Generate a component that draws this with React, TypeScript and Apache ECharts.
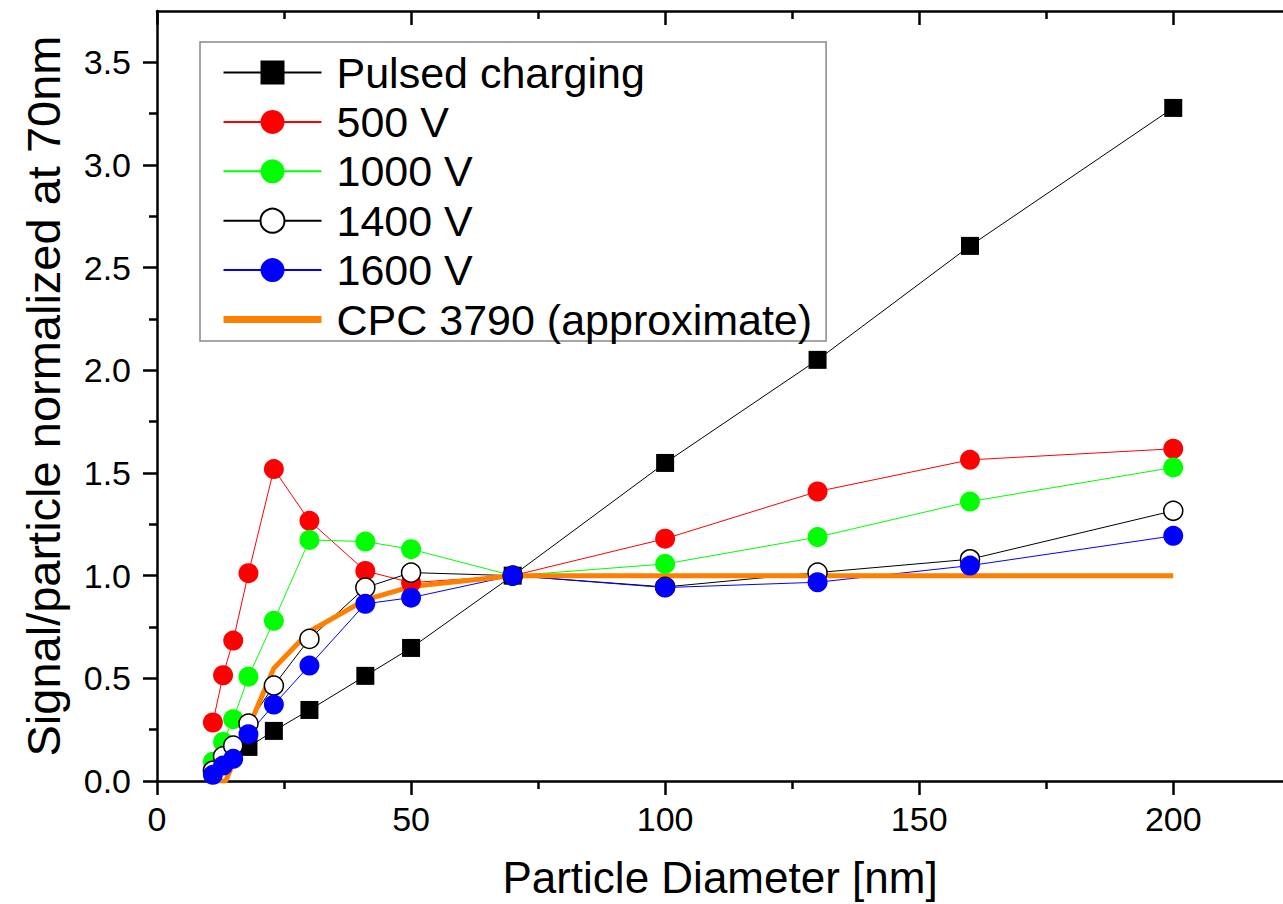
import React, { useEffect, useRef } from "react";
import * as echarts from "echarts";

const DIAMETERS = [11, 13, 15, 18, 23, 30, 41, 50, 70, 100, 130, 160, 200];
const PULSED_X = [18, 23, 30, 41, 50, 70, 100, 130, 160, 200];
const PULSED_Y = [0.166, 0.244, 0.346, 0.512, 0.648, 1.0, 1.549, 2.051, 2.606, 3.278];
const V500 = [0.285, 0.515, 0.684, 1.012, 1.519, 1.267, 1.023, 0.966, 1.0, 1.18, 1.41, 1.564, 1.618];
const V1000 = [0.094, 0.19, 0.301, 0.508, 0.78, 1.174, 1.166, 1.129, 1.0, 1.057, 1.188, 1.361, 1.527];
const V1400 = [0.05, 0.12, 0.172, 0.28, 0.465, 0.692, 0.942, 1.015, 1.0, 0.945, 1.015, 1.08, 1.316];
const V1600 = [0.03, 0.075, 0.108, 0.228, 0.372, 0.562, 0.863, 0.893, 1.0, 0.942, 0.968, 1.049, 1.194];
const CPC_X = [11, 13.5, 23, 30, 41, 50, 70, 100, 130, 160, 200];
const CPC_Y = [0, 0, 0.549, 0.728, 0.882, 0.947, 1.0, 1.0, 1.0, 1.0, 1.0];

const X_MAJOR = [0, 50, 100, 150, 200];
const X_MINOR = [25, 75, 125, 175];
const Y_MAJOR = [0, 0.5, 1.0, 1.5, 2.0, 2.5, 3.0, 3.5];
const Y_MINOR = [0.25, 0.75, 1.25, 1.75, 2.25, 2.75, 3.25];

const FONT = "'Liberation Sans', Arial, sans-serif";
const XMAX = 221.6;
const YMAX = 3.75;

const zip = (xs: number[], ys: number[]) => xs.map((x, i) => [x, ys[i]]);

export default function App() {
  const ref = useRef<HTMLDivElement>(null);
  useEffect(() => {
    if (!ref.current) return;
    const chart = echarts.init(ref.current, null, { renderer: "svg" });
    const axisLine = { show: true, lineStyle: { color: "#000", width: 2.5 } };
    const xBase = { type: "value", min: 0, max: XMAX, splitLine: { show: false } };
    const yBase = { type: "value", min: 0, max: YMAX, splitLine: { show: false } };
    chart.setOption({
      animation: false,
      backgroundColor: "#fff",
      textStyle: { fontFamily: FONT },
      grid: { left: 157, right: 0, top: 11, bottom: 123 },
      legend: {
        orient: "vertical",
        left: 200,
        top: 42,
        padding: [9, 14, 0, 20],
        borderColor: "#888",
        borderWidth: 1.5,
        itemWidth: 98,
        itemHeight: 30,
        itemGap: 6.4,
        textStyle: { fontSize: 43, lineHeight: 43, color: "#000", fontFamily: FONT, padding: [0, 0, 0, 10] },
        data: [
          "Pulsed charging",
          "500 V",
          "1000 V",
          "1400 V",
          "1600 V",
          { name: "CPC 3790 (approximate)", itemStyle: { opacity: 0 }, lineStyle: { width: 7 } },
        ],
      },
      xAxis: [
        {
          ...xBase,
          position: "bottom",
          axisLine,
          axisTick: { show: true, customValues: X_MAJOR, length: 14, lineStyle: { color: "#000", width: 2.5 } },
          axisLabel: { customValues: X_MAJOR, fontSize: 34, color: "#000", margin: 21, fontFamily: FONT },
          name: "Particle Diameter [nm]",
          nameLocation: "middle",
          nameGap: 74,
          nameTextStyle: { fontSize: 44, color: "#000", fontFamily: FONT },
        },
        {
          ...xBase,
          position: "bottom",
          axisLine: { show: false },
          axisTick: { show: true, customValues: X_MINOR, length: 8, lineStyle: { color: "#000", width: 2.5 } },
          axisLabel: { show: false },
        },
        {
          ...xBase,
          position: "top",
          axisLine,
          axisTick: { show: true, inside: true, customValues: X_MAJOR, length: 14, lineStyle: { color: "#000", width: 2.5 } },
          axisLabel: { show: false },
        },
        {
          ...xBase,
          position: "top",
          axisLine: { show: false },
          axisTick: { show: true, inside: true, customValues: X_MINOR, length: 8, lineStyle: { color: "#000", width: 2.5 } },
          axisLabel: { show: false },
        },
      ],
      yAxis: [
        {
          ...yBase,
          position: "left",
          axisLine,
          axisTick: { show: true, customValues: Y_MAJOR, length: 14, lineStyle: { color: "#000", width: 2.5 } },
          axisLabel: {
            customValues: Y_MAJOR,
            fontSize: 34,
            color: "#000",
            margin: 26,
            fontFamily: FONT,
            formatter: (v: number) => v.toFixed(1),
          },
          name: "Signal/particle normalized at 70nm",
          nameLocation: "middle",
          nameGap: 90,
          nameTextStyle: { fontSize: 47, color: "#000", fontFamily: FONT },
        },
        {
          ...yBase,
          position: "left",
          axisLine: { show: false },
          axisTick: { show: true, customValues: Y_MINOR, length: 8, lineStyle: { color: "#000", width: 2.5 } },
          axisLabel: { show: false },
        },
      ],
      series: [
        {
          name: "Pulsed charging",
          type: "line",
          data: zip(PULSED_X, PULSED_Y),
          symbol: "rect",
          symbolSize: 18,
          itemStyle: { color: "#000" },
          lineStyle: { color: "#000", width: 1 },
        },
        {
          name: "500 V",
          type: "line",
          data: zip(DIAMETERS, V500),
          symbol: "circle",
          symbolSize: 20,
          itemStyle: { color: "#ff0000" },
          lineStyle: { color: "#ff0000", width: 1 },
        },
        {
          name: "1000 V",
          type: "line",
          data: zip(DIAMETERS, V1000),
          symbol: "circle",
          symbolSize: 20,
          itemStyle: { color: "#00ff00" },
          lineStyle: { color: "#00ff00", width: 1 },
        },
        {
          name: "1400 V",
          type: "line",
          data: zip(DIAMETERS, V1400),
          symbol: "circle",
          symbolSize: 19,
          itemStyle: { color: "#fff", borderColor: "#000", borderWidth: 1.5 },
          lineStyle: { color: "#000", width: 1 },
        },
        {
          name: "1600 V",
          type: "line",
          data: zip(DIAMETERS, V1600),
          symbol: "circle",
          symbolSize: 20,
          itemStyle: { color: "#0000ff" },
          lineStyle: { color: "#0000ff", width: 1 },
        },
        {
          name: "CPC 3790 (approximate)",
          type: "line",
          data: zip(CPC_X, CPC_Y),
          symbol: "none",
          itemStyle: { color: "#ff8000" },
          lineStyle: { color: "#ff8000", width: 5 },
        },
      ],
    });
    return () => chart.dispose();
  }, []);
  return (
    <div
      ref={ref}
      style={{ position: "fixed", left: 0, top: 0, width: 1283, height: 904, background: "#fff" }}
    />
  );
}
